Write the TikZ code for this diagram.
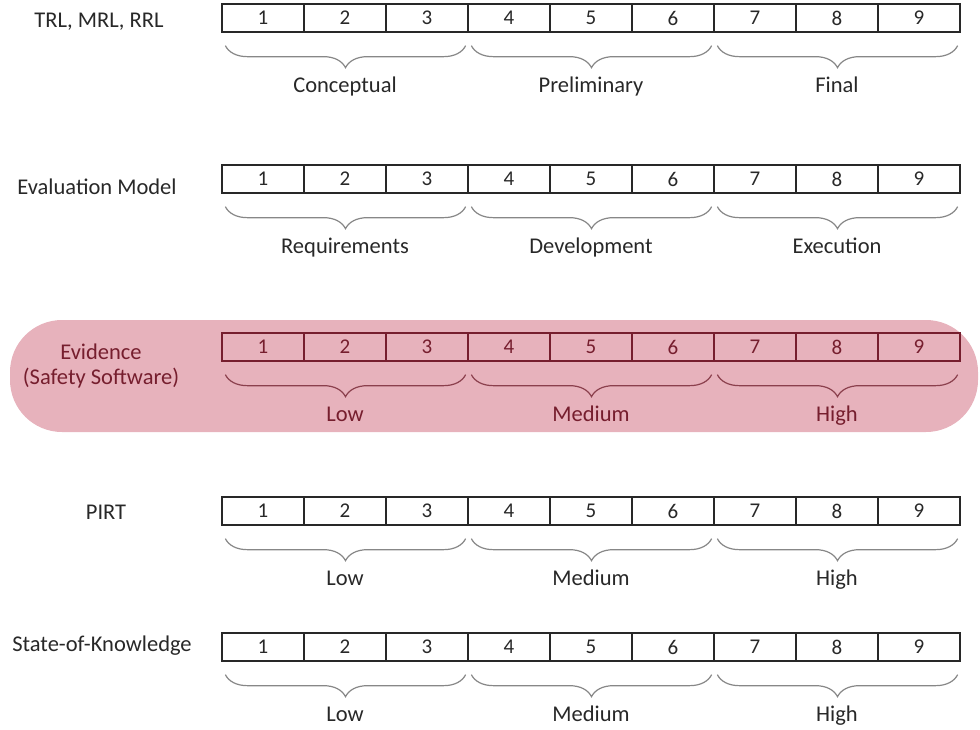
\documentclass[tikz,border=0pt]{standalone}
\usepackage{fontspec}
\setmainfont{Carlito}
\usepackage{tikz}
\usetikzlibrary{arrows,decorations.pathreplacing,calc}
\definecolor{pinkbg}{RGB}{231,178,188}
\definecolor{wine}{RGB}{118,30,46}
\definecolor{ink}{RGB}{40,40,40}
\definecolor{bracegray}{RGB}{135,135,135}

\begin{document}
\begin{tikzpicture}[x={(1pt,0)},y={(0,-1pt)},
    cell/.style={draw,line width=1.3pt,minimum width=82pt,minimum height=28pt,inner sep=0pt,
      font=\fontsize{21}{21}\selectfont},
    grp/.style={decorate,decoration={brace,mirror,amplitude=22pt},line width=1.2pt},
    lvl/.style={inner sep=0pt,anchor=base,font=\fontsize{22.5}{25}\selectfont},
    rowname/.style={inner sep=0pt,align=center,font=\fontsize{22.5}{25}\selectfont}]
  \useasboundingbox (0,0) rectangle (980,729);
  % highlighted band
  \fill[pinkbg,rounded corners=52pt] (10,320) rectangle (978,432);
  % the scales
  \foreach \r/\y in {trl/18,evm/179,pirt/511,sok/647}
    \foreach \i in {1,...,9}
      \node[cell,draw=ink,text=ink] (\r\i) at (181+82*\i,\y) {\i};
  \foreach \i in {1,...,9}
    \node[cell,draw=wine,text=wine] (evd\i) at (181+82*\i,347) {\i};
  % braces
  \foreach \r/\c in {trl/bracegray,evm/bracegray,evd/wine!85,pirt/bracegray,sok/bracegray}
    \foreach \a/\b in {1/3,4/6,7/9}
      \draw[grp,draw=\c] ([xshift=4pt,yshift=-13pt]\r\a.south west) -- ([xshift=-3pt,yshift=-13pt]\r\b.south east);
  \foreach \r/\p/\q/\s/\c in {trl/Conceptual/Preliminary/Final/ink,
      evm/Requirements/Development/Execution/ink,evd/Low/Medium/High/wine,
      pirt/Low/Medium/High/ink,sok/Low/Medium/High/ink}{
    \node[lvl,text=\c] (\r A) at ($(\r2.south)+(0,60)$) {\p};
    \node[lvl,text=\c] (\r B) at ($(\r5.south)+(0,60)$) {\q};
    \node[lvl,text=\c] (\r C) at ($(\r8.south)+(0,60)$) {\s};
  }
  % row names
  \node[rowname,text=ink] (trl) at (99,22) {TRL, MRL, RRL};
  \node[rowname,text=ink] (evm) at (97,187) {Evaluation Model};
  \node[rowname,text=wine] (evd) at (101,366) {Evidence\\(Safety Software)};
  \node[rowname,text=ink] (pirt) at (106,512) {PIRT};
  \node[rowname,text=ink] (sok) at (102,646) {State-of-Knowledge};
\end{tikzpicture}
\end{document}
